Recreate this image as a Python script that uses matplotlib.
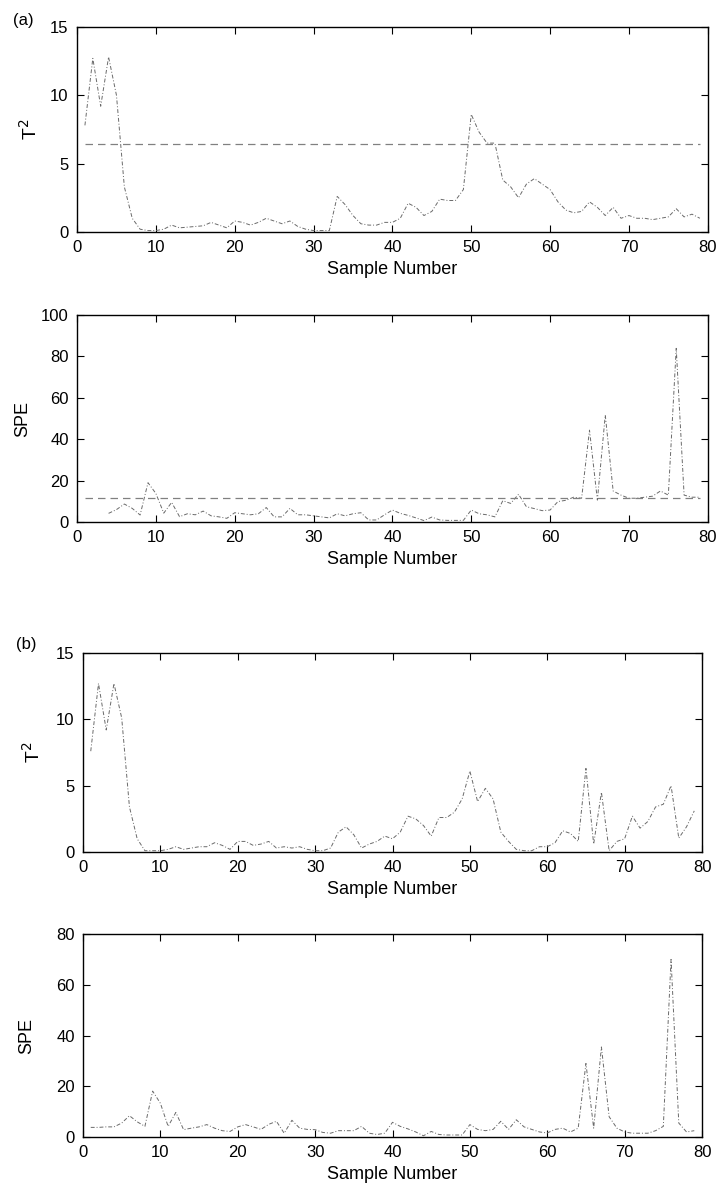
import numpy as np
import matplotlib
matplotlib.use('Agg')
import matplotlib.pyplot as plt

plt.rcParams['font.family'] = ['Liberation Sans', 'DejaVu Sans']

samples = np.arange(1, 80)

# (a) T^2
t2_a = [7.8, 12.7, 9.2, 12.8, 10.0, 3.3, 1.0, 0.2, 0.1, 0.1,
        0.2, 0.5, 0.3, 0.35, 0.4, 0.45, 0.7, 0.5, 0.3, 0.8,
        0.7, 0.5, 0.7, 1.0, 0.8, 0.6, 0.8, 0.4, 0.2, 0.1,
        0.1, 0.1, 2.6, 2.0, 1.2, 0.6, 0.5, 0.5, 0.7, 0.7,
        1.0, 2.1, 1.8, 1.2, 1.5, 2.4, 2.3, 2.3, 3.1, 8.6,
        7.3, 6.5, 6.5, 3.8, 3.3, 2.5, 3.5, 3.9, 3.5, 3.1,
        2.2, 1.6, 1.4, 1.5, 2.2, 1.8, 1.2, 1.8, 1.0, 1.2,
        1.0, 1.0, 0.9, 1.0, 1.1, 1.7, 1.1, 1.3, 1.0]
t2_a_limit = 6.4

# (a) SPE (first three samples not drawn)
spe_a = [np.nan, np.nan, np.nan, 4.2, 6.0, 8.7, 6.6, 3.4, 19.0, 13.8,
         4.3, 9.5, 2.6, 4.0, 3.5, 5.3, 3.0, 2.5, 1.8, 4.5,
         4.0, 3.5, 4.0, 7.0, 2.5, 2.5, 6.6, 3.5, 3.5, 3.0,
         2.5, 2.0, 4.0, 3.0, 4.0, 4.5, 1.0, 1.0, 3.5, 5.8,
         4.2, 3.2, 2.0, 0.7, 2.4, 1.0, 0.8, 0.8, 0.8, 5.8,
         4.0, 3.5, 2.5, 10.3, 9.0, 13.4, 7.4, 6.5, 5.5, 5.8,
         9.9, 10.5, 12.0, 11.5, 44.4, 10.6, 51.7, 15.0, 13.0, 11.5,
         11.5, 12.0, 12.5, 15.0, 13.0, 83.9, 13.0, 12.0, 12.0]
spe_a_limit = 11.8

# (b) T^2
t2_b = [7.6, 12.7, 9.2, 12.7, 10.1, 3.4, 1.0, 0.1, 0.1, 0.1,
        0.2, 0.4, 0.2, 0.3, 0.4, 0.4, 0.7, 0.5, 0.2, 0.8,
        0.8, 0.5, 0.6, 0.8, 0.3, 0.4, 0.3, 0.4, 0.2, 0.1,
        0.1, 0.3, 1.5, 1.9, 1.3, 0.3, 0.6, 0.8, 1.2, 1.0,
        1.5, 2.7, 2.5, 2.0, 1.2, 2.6, 2.6, 3.0, 4.0, 6.1,
        3.8, 4.8, 4.0, 1.5, 0.8, 0.2, 0.1, 0.1, 0.4, 0.4,
        0.7, 1.6, 1.4, 0.8, 6.3, 0.6, 4.5, 0.1, 0.8, 1.0,
        2.7, 1.8, 2.3, 3.4, 3.6, 5.0, 1.05, 1.9, 3.1]

# (b) SPE
spe_b = [3.8, 3.8, 4.0, 4.0, 5.5, 8.4, 6.0, 4.2, 18.1, 13.3,
         4.2, 9.7, 2.9, 3.5, 4.0, 4.9, 3.5, 2.5, 2.2, 4.0,
         4.9, 4.0, 3.0, 5.0, 6.2, 1.5, 6.6, 3.5, 3.0, 2.9,
         1.8, 1.5, 2.5, 2.5, 2.5, 4.2, 1.5, 1.0, 1.5, 5.8,
         4.2, 3.2, 2.0, 0.5, 2.2, 1.0, 0.8, 0.8, 0.8, 4.9,
         3.0, 2.5, 3.0, 6.2, 3.0, 6.8, 4.0, 3.0, 2.0, 1.6,
         3.0, 3.5, 2.0, 3.5, 29.0, 3.5, 35.5, 8.0, 3.5, 2.0,
         1.5, 1.5, 1.5, 2.5, 4.2, 70.0, 5.5, 2.0, 2.5]

xticks = np.arange(0, 81, 10)

fig = plt.figure(figsize=(7.2, 11.87), dpi=100)

panels = [
    # rect, values, limit, ylabel, label size, ylim, yticks, ylabel x
    ([0.107, 0.8046, 0.876, 0.1727], t2_a, t2_a_limit, 'T$^2$', 14, 15, np.arange(0, 16, 5), -0.058),
    ([0.107, 0.5602, 0.876, 0.1744], spe_a, spe_a_limit, 'SPE', 13, 100, np.arange(0, 101, 20), -0.072),
    ([0.1153, 0.2822, 0.8597, 0.1677], t2_b, None, 'T$^2$', 14, 15, np.arange(0, 16, 5), -0.064),
    ([0.1153, 0.0421, 0.8597, 0.1710], spe_b, None, 'SPE', 13, 80, np.arange(0, 81, 20), -0.078),
]

for rect, vals, limit, ylab, ysz, ymax, yt, ylx in panels:
    ax = fig.add_axes(rect)
    ax.plot(samples, vals, color='#6a6a6a', lw=0.7, ls=(0, (4, 2, 1, 2)))
    if limit is not None:
        ax.plot([samples[0], samples[-1]], [limit, limit], color='#808080',
                lw=0.9, ls=(0, (6, 4)))
    ax.set_xlim(0, 80)
    ax.set_ylim(0, ymax)
    ax.set_xticks(xticks)
    ax.set_yticks(yt)
    ax.tick_params(direction='in', top=True, right=True, length=5,
                   width=0.8, labelsize=12, pad=6)
    for s in ax.spines.values():
        s.set_linewidth(1.0)
    ax.set_xlabel('Sample Number', fontsize=13, labelpad=4)
    ax.set_ylabel(ylab, fontsize=ysz)
    ax.yaxis.set_label_coords(ylx, 0.5)

fig.text(0.032, 0.983, '(a)', fontsize=12, ha='center', va='center')
fig.text(0.036, 0.457, '(b)', fontsize=12, ha='center', va='center')

fig.savefig('out.png', dpi=100)
